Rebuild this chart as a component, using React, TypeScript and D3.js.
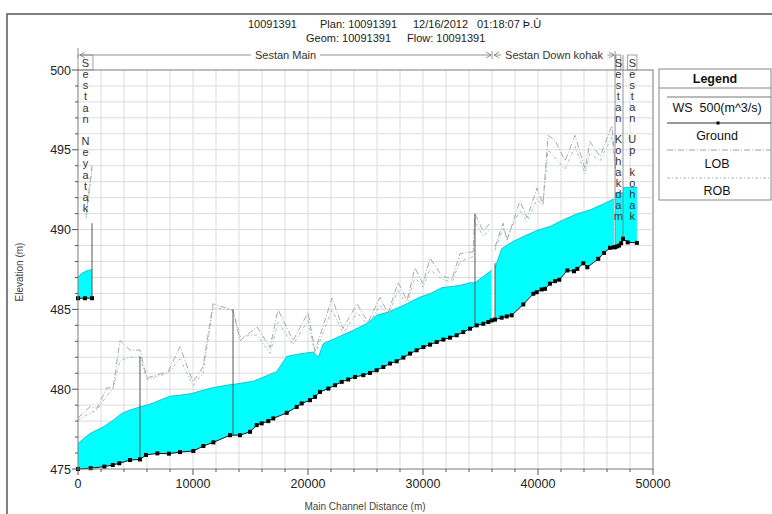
import { useEffect, useRef } from 'react'
import * as d3 from 'd3'

// ---- data ----
const titleParts = ['10091391', 'Plan: 10091391', '12/16/2012', '01:18:07 Þ.Ù']
const subtitleParts = ['Geom: 10091391', 'Flow: 10091391']

// Sestan Neyatak
const neyGroundSta = [0, 610, 1220]
const neyGround = [485.7, 485.7, 485.7]
const neyWsSta = [0, 300, 700, 1220]
const neyWs = [487.0, 487.25, 487.4, 487.5]
const neyBankSta = [700, 1220]
const neyLob = [490.9, 494.0]
const neyRob = [490.7, 493.8]

// Sestan Main
const mainGroundSta = [0, 1100, 2290, 3020, 3590, 4520, 5390, 5910, 6900, 7910, 8870, 10030, 10900, 11770, 13220, 14090, 14960, 15540, 15970, 16550, 16980, 18150, 19020, 19450, 20170, 20610, 21040, 21770, 22350, 22930, 23500, 24090, 24810, 25390, 25970, 26550, 27130, 27710, 28290, 28870, 29450, 30030, 30610, 31190, 31770, 32350, 32930, 33500, 34090, 34670, 35240, 35680, 35970]
const mainGround = [475.0, 475.05, 475.15, 475.25, 475.36, 475.56, 475.6, 475.88, 475.98, 475.96, 476.06, 476.13, 476.44, 476.67, 477.12, 477.12, 477.33, 477.75, 477.86, 478.0, 478.17, 478.52, 478.89, 479.11, 479.31, 479.52, 479.83, 480.04, 480.25, 480.46, 480.61, 480.77, 480.88, 481.02, 481.19, 481.39, 481.61, 481.75, 481.98, 482.23, 482.44, 482.64, 482.79, 482.96, 483.11, 483.23, 483.38, 483.58, 483.79, 484.0, 484.1, 484.21, 484.31]
const mainWsSta = [0, 1040, 2200, 3070, 3800, 4520, 5390, 6260, 7130, 8000, 8870, 9890, 10900, 11770, 12930, 14090, 15240, 15830, 17280, 18150, 19020, 20460, 20900, 21330, 22500, 23940, 25100, 25970, 26980, 28290, 29740, 30610, 31630, 33220, 34090, 34520, 35970]
const mainWs = [476.6, 477.22, 477.64, 478.06, 478.48, 478.69, 478.89, 479.06, 479.31, 479.56, 479.62, 479.73, 479.94, 480.1, 480.25, 480.36, 480.5, 480.67, 481.1, 482.05, 482.18, 482.33, 482.0, 482.85, 483.23, 483.69, 484.11, 484.63, 484.83, 485.25, 485.77, 485.98, 486.36, 486.5, 486.67, 486.67, 487.45]
const mainBankSta = [0, 1040, 1650, 2520, 3040, 3650, 4520, 5390, 6000, 6870, 7830, 8870, 10000, 10870, 11740, 13480, 14090, 15570, 16700, 17390, 18700, 20000, 20610, 22090, 23040, 24260, 25220, 26260, 26960, 27830, 28610, 29300, 30000, 30610, 31650, 32520, 33220, 34350, 34520, 35220, 35830]
const mainLob = [478.2, 478.9, 478.8, 480.1, 480.05, 483.05, 482.45, 482.45, 480.7, 480.9, 481.1, 482.65, 480.45, 481.4, 485.35, 484.95, 483.05, 483.9, 482.6, 485.0, 483.05, 484.8, 482.4, 485.7, 483.8, 485.35, 484.2, 485.75, 484.75, 486.7, 485.55, 487.6, 486.6, 488.2, 487.1, 486.9, 488.5, 488.6, 491.0, 489.9, 490.4]
const mainRob = [478.05, 478.5, 478.7, 479.6, 480.05, 481.8, 482.0, 482.0, 480.6, 480.8, 481.0, 481.9, 480.2, 481.0, 485.1, 484.95, 483.3, 483.4, 482.25, 484.2, 482.8, 484.3, 482.2, 485.0, 483.5, 484.8, 484.0, 485.3, 484.6, 486.2, 485.3, 487.0, 486.4, 487.5, 486.9, 486.7, 488.0, 488.3, 490.5, 489.6, 490.0]

// Sestan Down kohak
const downGroundSta = [36260, 36840, 37280, 37710, 38720, 39590, 39890, 40320, 40610, 41040, 41480, 41850, 42550, 43130, 43420, 43940, 44290, 45240, 45740, 46260, 46610]
const downGround = [484.36, 484.48, 484.56, 484.63, 485.31, 485.98, 486.08, 486.25, 486.29, 486.61, 486.77, 486.86, 487.44, 487.39, 487.54, 487.89, 487.64, 488.17, 488.54, 488.86, 488.89]
const downWsSta = [36260, 36840, 37710, 38720, 39890, 41040, 42200, 43370, 44520, 45680, 46610]
const downWs = [487.57, 488.8, 489.21, 489.56, 489.94, 490.19, 490.61, 490.98, 491.23, 491.61, 491.92]
const downBankSta = [36260, 36960, 37300, 38430, 39040, 39910, 40430, 40870, 41480, 42350, 43220, 44090, 44520, 45390, 46430, 46780]
const downLob = [488.9, 490.4, 489.3, 491.8, 490.75, 492.6, 491.6, 495.9, 495.6, 494.3, 495.9, 493.8, 495.5, 494.6, 496.5, 493.6]
const downRob = [488.7, 490.1, 489.5, 491.2, 490.5, 491.9, 491.5, 495.0, 494.5, 493.8, 495.2, 493.5, 494.8, 494.3, 495.8, 493.4]

// Sestan Kohak dam
const damGroundSta = [46700, 46880, 47050, 47230, 47390]
const damGround = [488.9, 488.95, 489.0, 489.15, 489.42]
const damWsSta = [46700, 47390]
const damWs = [492.3, 492.3]

// Sestan Up kohak
const upGroundSta = [47390, 47800, 48600]
const upGround = [489.42, 489.2, 489.17]
const upWsSta = [47390, 48600]
const upWs = [492.62, 492.65]

// vertical structure / bank lines: station, bottom, top
const structSta = [1220, 5390, 13480, 34520, 36260]
const structBottom = [485.7, 475.6, 477.12, 484.0, 484.36]
const structTop = [490.4, 482.05, 485.0, 491.0, 487.9]
const damEdgeSta = [46700, 47390]
const damEdgeGround = [488.9, 489.42]

// reaches drawn along the top band
const bandReachNames = ['Sestan Main', 'Sestan Down kohak']
const bandReachStart = [0, 36000]
const bandReachEnd = [36000, 46700]
const boxReachNames = ['Sestan Neyatak', 'Sestan Kohakdam', 'Sestan Up kohak']
const boxReachStart = [0, 46780, 47800]
const boxReachEnd = [1300, 47200, 48600]

const xTicks = [0, 10000, 20000, 30000, 40000, 50000]
const yTicks = [475, 480, 485, 490, 495, 500]
const legendItems = ['WS  500(m^3/s)', 'Ground', 'LOB', 'ROB']

type Pt = [number, number]
const zip = (a: number[], b: number[]): Pt[] => a.map((v, i) => [v, b[i]] as Pt)

export default function App() {
  const ref = useRef<SVGSVGElement>(null)

  useEffect(() => {
    const svg = d3.select(ref.current)
    svg.selectAll('*').remove()
    const font = '"Liberation Sans", Arial, Helvetica, sans-serif'
    const x = d3.scaleLinear().domain([0, 50000]).range([78, 653])
    const y = d3.scaleLinear().domain([475, 500]).range([469, 70])
    const line = d3.line<Pt>().x(d => x(d[0])).y(d => y(d[1]))
    const [x0, x1] = x.range()
    const [yb, yt] = y.range()

    svg.append('rect').attr('width', 772).attr('height', 514).attr('fill', '#fff')
    svg.append('rect').attr('x', 7).attr('y', 14).attr('width', 820).attr('height', 620)
      .attr('fill', 'none').attr('stroke', '#555').attr('stroke-width', 1.5)

    // title
    const tx = [248, 320, 413, 477]
    titleParts.forEach((t, i) => {
      svg.append('text').attr('x', tx[i]).attr('y', 28).text(t)
        .style('font-family', font).style('font-size', '11px').attr('fill', '#222')
    })
    const sx = [306, 407]
    subtitleParts.forEach((t, i) => {
      svg.append('text').attr('x', sx[i]).attr('y', 42).text(t)
        .style('font-family', font).style('font-size', '11px').attr('fill', '#222')
    })

    // grid
    const grid = svg.append('g').attr('stroke', '#dcdcdc').attr('stroke-width', 1)
    d3.range(2000, 50000, 2000).forEach(v => {
      grid.append('line').attr('x1', x(v)).attr('x2', x(v)).attr('y1', yt).attr('y2', yb)
    })
    d3.range(476, 500, 1).forEach(v => {
      grid.append('line').attr('x1', x0).attr('x2', x1).attr('y1', y(v)).attr('y2', y(v))
    })

    const plot = svg.append('g')

    // water surface fills
    const reaches: [number[], number[], number[], number[]][] = [
      [neyWsSta, neyWs, neyGroundSta, neyGround],
      [mainWsSta, mainWs, mainGroundSta, mainGround],
      [downWsSta, downWs, downGroundSta, downGround],
      [damWsSta, damWs, damGroundSta, damGround],
      [upWsSta, upWs, upGroundSta, upGround],
    ]
    reaches.forEach(([ws, wv, gs, gv]) => {
      const poly = zip(ws, wv).concat(zip(gs, gv).reverse())
      plot.append('path').attr('d', line(poly) + 'Z').attr('fill', '#00ffff').attr('stroke', 'none')
      plot.append('path').attr('d', line(zip(ws, wv))).attr('fill', 'none')
        .attr('stroke', '#14c4d4').attr('stroke-width', 1)
    })

    // LOB / ROB
    const banks: [number[], number[], number[]][] = [
      [neyBankSta, neyLob, neyRob],
      [mainBankSta, mainLob, mainRob],
      [downBankSta, downLob, downRob],
    ]
    banks.forEach(([s, lob, rob]) => {
      plot.append('path').attr('d', line(zip(s, rob))).attr('fill', 'none')
        .attr('stroke', '#9cc4bc').attr('stroke-width', 1).attr('stroke-dasharray', '3,2,1,2')
      plot.append('path').attr('d', line(zip(s, lob))).attr('fill', 'none')
        .attr('stroke', '#a8a8a8').attr('stroke-width', 1).attr('stroke-dasharray', '6,2,1,2')
    })

    // structures
    structSta.forEach((s, i) => {
      plot.append('line').attr('x1', x(s)).attr('x2', x(s))
        .attr('y1', y(structBottom[i])).attr('y2', y(structTop[i]))
        .attr('stroke', '#555').attr('stroke-width', 1)
    })
    damEdgeSta.forEach((s, i) => {
      plot.append('line').attr('x1', x(s)).attr('x2', x(s))
        .attr('y1', y(damEdgeGround[i])).attr('y2', 55)
        .attr('stroke', '#777').attr('stroke-width', 0.8)
    })

    // ground
    reaches.forEach(([, , gs, gv]) => {
      const pts = zip(gs, gv)
      plot.append('path').attr('d', line(pts)).attr('fill', 'none')
        .attr('stroke', '#111').attr('stroke-width', 1)
      pts.forEach(p => {
        plot.append('rect').attr('x', x(p[0]) - 2).attr('y', y(p[1]) - 2)
          .attr('width', 4).attr('height', 4).attr('fill', '#000')
      })
    })

    // plot border
    svg.append('rect').attr('x', x0).attr('y', yt).attr('width', x1 - x0).attr('height', yb - yt)
      .attr('fill', 'none').attr('stroke', '#7a7a7a').attr('stroke-width', 1)

    // top reach band
    const bandY = 55
    const band = svg.append('g').attr('stroke', '#777').attr('fill', 'none').attr('stroke-width', 0.8)
    bandReachNames.forEach((name, i) => {
      const a = x(bandReachStart[i]) + 2
      const b = x(bandReachEnd[i]) - 1
      band.append('line').attr('x1', a).attr('x2', b).attr('y1', bandY).attr('y2', bandY)
      band.append('path').attr('d', `M${a + 5},${bandY - 3}L${a},${bandY}L${a + 5},${bandY + 3}`)
      band.append('path').attr('d', `M${b - 5},${bandY - 3}L${b},${bandY}L${b - 5},${bandY + 3}`)
      band.append('line').attr('x1', b + 1).attr('x2', b + 1).attr('y1', bandY - 4).attr('y2', bandY + 4)
      const t = svg.append('text').attr('x', (a + b) / 2).attr('y', bandY + 4).text(name)
        .attr('text-anchor', 'middle').style('font-family', font).style('font-size', '11px').attr('fill', '#333')
      const bb = (t.node() as SVGTextElement).getBBox()
      svg.append('rect').attr('x', bb.x - 4).attr('y', bb.y).attr('width', bb.width + 8)
        .attr('height', bb.height).attr('fill', '#fff')
      t.raise()
    })
    band.append('line').attr('x1', x0).attr('x2', x0).attr('y1', bandY - 7).attr('y2', bandY + 3)

    // boxed short reaches with vertical names
    const steps = [11.15, 10.9, 10.9]
    boxReachNames.forEach((name, i) => {
      const a = x(boxReachStart[i])
      const b = x(boxReachEnd[i])
      svg.append('rect').attr('x', a).attr('y', bandY).attr('width', b - a).attr('height', yt - bandY)
        .attr('fill', 'none').attr('stroke', '#888').attr('stroke-width', 0.8)
      name.split('').forEach((ch, k) => {
        if (ch === ' ') return
        svg.append('text').attr('x', (a + b) / 2).attr('y', 67 + k * steps[i]).text(ch)
          .attr('text-anchor', 'middle').style('font-family', font).style('font-size', '11px').attr('fill', '#333')
      })
    })

    // axes
    const axis = svg.append('g').attr('stroke', '#555').attr('stroke-width', 1)
    d3.range(475, 501, 1).forEach(v => {
      axis.append('line').attr('x1', x0 - (v % 5 === 0 ? 6 : 3)).attr('x2', x0).attr('y1', y(v)).attr('y2', y(v))
    })
    d3.range(0, 50001, 2000).forEach(v => {
      axis.append('line').attr('x1', x(v)).attr('x2', x(v)).attr('y1', yb).attr('y2', yb + (v % 10000 === 0 ? 6 : 3))
    })
    yTicks.forEach(v => {
      svg.append('text').attr('x', x0 - 7).attr('y', y(v) + 4.5).text(String(v))
        .attr('text-anchor', 'end').style('font-family', font).style('font-size', '12.5px').attr('fill', '#222')
    })
    xTicks.forEach(v => {
      svg.append('text').attr('x', x(v)).attr('y', yb + 19).text(String(v))
        .attr('text-anchor', 'middle').style('font-family', font).style('font-size', '12.5px').attr('fill', '#222')
    })
    svg.append('text').attr('transform', 'translate(23,272) rotate(-90)').text('Elevation (m)')
      .attr('text-anchor', 'middle').style('font-family', font).style('font-size', '10px').attr('fill', '#444')
    svg.append('text').attr('x', 365).attr('y', 510).text('Main Channel Distance (m)')
      .attr('text-anchor', 'middle').style('font-family', font).style('font-size', '10px').attr('fill', '#444')

    // legend
    const lg = svg.append('g')
    lg.append('rect').attr('x', 659).attr('y', 69).attr('width', 112).attr('height', 131)
      .attr('fill', '#fff').attr('stroke', '#888')
    lg.append('text').attr('x', 715).attr('y', 83).text('Legend').attr('text-anchor', 'middle')
      .style('font-family', font).style('font-size', '12.5px').style('font-weight', 'bold').attr('fill', '#111')
    lg.append('line').attr('x1', 659).attr('x2', 771).attr('y1', 88).attr('y2', 88).attr('stroke', '#888')
    const lineY = [97, 123, 150, 178]
    const textY = [112, 140, 168, 195]
    const styles = [
      { stroke: '#777', dash: null },
      { stroke: '#333', dash: null },
      { stroke: '#a0a0a0', dash: '6,2,1,2' },
      { stroke: '#93bcb4', dash: '3,2,1,2' },
    ]
    legendItems.forEach((name, i) => {
      const l = lg.append('line').attr('x1', 667).attr('x2', 771).attr('y1', lineY[i]).attr('y2', lineY[i])
        .attr('stroke', styles[i].stroke).attr('stroke-width', 1)
      if (styles[i].dash) l.attr('stroke-dasharray', styles[i].dash)
      if (i === 1) lg.append('rect').attr('x', 716.5).attr('y', lineY[i] - 1.5).attr('width', 3).attr('height', 3).attr('fill', '#000')
      lg.append('text').attr('x', 717).attr('y', textY[i]).text(name).attr('text-anchor', 'middle')
        .style('font-family', font).style('font-size', '12.5px').style('white-space', 'pre').attr('fill', '#111')
    })
  }, [])

  return <svg ref={ref} width={772} height={514} style={{ position: 'absolute', left: 0, top: 0 }} />
}
